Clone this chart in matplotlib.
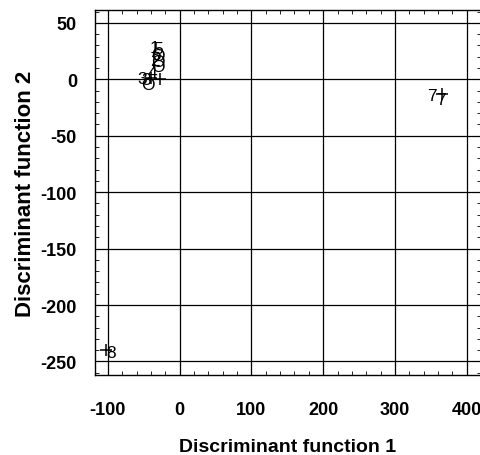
import numpy as np
import matplotlib.pyplot as plt
from matplotlib.ticker import MultipleLocator

# case scores (discriminant function 1, 2) with group label
df1 = [-35, -30, -33, -35, -30, -30, -30, -38, -52, -46, -44, 352, 364, -95]
df2 = [28, 27, 22, 17, 21, 16, 11, 6, 1, 0, -5, -14, -18, -242]
labels = ['1', '5', '6', '2', 'O', 'O', 'O', '4', '3', '3', 'O', '7', '7', '8']

# group centroids
cx = [-28, -40, 366, -103]
cy = [0, 1, -13, -240]

plt.rcParams['font.family'] = ['Liberation Sans', 'DejaVu Sans']
plt.rcParams['axes.unicode_minus'] = False

fig = plt.figure(figsize=(4.81, 4.56), dpi=100)
ax = fig.add_axes([0.1975, 0.1754, 0.8025, 0.8006])

for x, y, s in zip(df1, df2, labels):
    ax.text(x, y, s, fontsize=12.5, ha='center', va='center')
ax.scatter(cx, cy, marker='+', s=70, color='black', linewidths=1.1)

ax.set_xlim(-118, 420)
ax.set_ylim(-262, 61.5)
ax.set_xticks([-100, 0, 100, 200, 300, 400])
ax.set_yticks([50, 0, -50, -100, -150, -200, -250])
ax.xaxis.set_minor_locator(MultipleLocator(20))
ax.yaxis.set_minor_locator(MultipleLocator(10))
ax.grid(True, which='major', color='black', linewidth=0.9)
ax.tick_params(which='both', direction='in', top=True, right=True)
ax.tick_params(which='major', length=0)
ax.tick_params(axis='x', which='major', pad=19)
ax.tick_params(axis='y', which='major', pad=13)
ax.tick_params(which='minor', length=3)
for lab in ax.get_xticklabels() + ax.get_yticklabels():
    lab.set_fontweight('bold')
    lab.set_fontsize(13)
for sp in ax.spines.values():
    sp.set_linewidth(1)

ax.set_xlabel('Discriminant function 1', fontsize=14, fontweight='bold', labelpad=14)
ax.set_ylabel('Discriminant function 2', fontsize=16, fontweight='bold', labelpad=3)

fig.savefig('out.png', dpi=100)
